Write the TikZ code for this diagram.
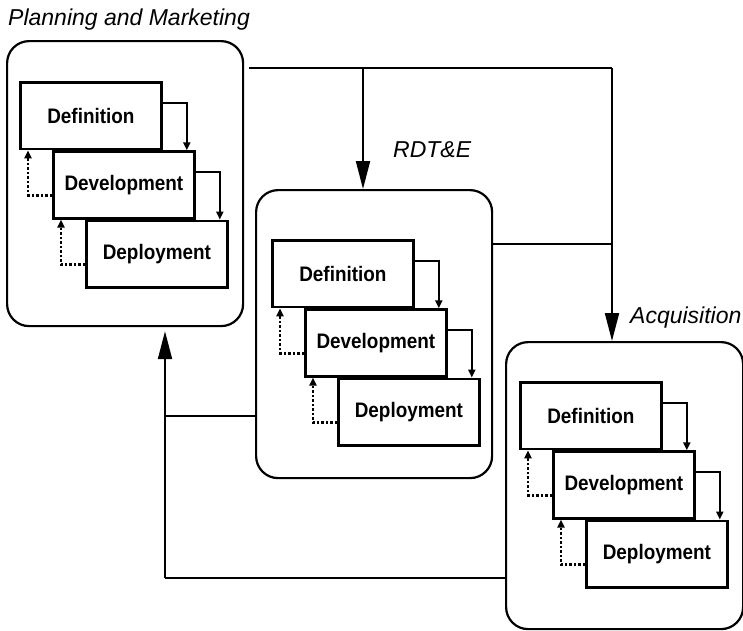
\documentclass[tikz,border=0pt]{standalone}
\usepackage{fontspec}
\setmainfont{Liberation Sans}
\newfontfamily\stagefont[FakeStretch=0.9]{Liberation Sans}
\usetikzlibrary{arrows.meta}

% Three cascading stage boxes with their forward and feedback arrows
\newcommand\stagegroup[3]{%
  \node[inbox, anchor=north west] (#1def) at (#2,#3) {Definition};
  \node[inbox, anchor=north west, xshift=33pt] (#1dev) at (#1def.south west) {Development};
  \node[inbox, anchor=north west, xshift=33pt] (#1dep) at (#1dev.south west) {Deployment};
  \draw[smallarr] ([yshift=-22pt]#1def.north east) -| ([xshift=-9pt]#1dev.north east);
  \draw[smallarr] ([yshift=-22pt]#1dev.north east) -| ([xshift=-9pt]#1dep.north east);
  \draw[dotarr] ([yshift=-45pt]#1dev.north west) -| ([xshift=9pt]#1def.south west);
  \draw[dotarr] ([yshift=-45pt]#1dep.north west) -| ([xshift=9pt]#1dev.south west);
}

\begin{document}
\begin{tikzpicture}[x=1pt, y=-1pt,
  inbox/.style={draw, line width=2.8pt, fill=white, minimum width=141pt,
    minimum height=66.5pt, inner sep=0pt,
    font=\stagefont\bfseries\fontsize{21}{24}\selectfont},
  outbox/.style={draw, line width=2.2pt, rounded corners=22pt, inner sep=0pt},
  conn/.style={line width=2pt},
  bigarr/.style={conn, -{Triangle[length=28pt,width=14pt]}},
  smallarr/.style={line width=2pt, -{Triangle[length=8pt,width=7pt]}},
  dotarr/.style={line width=2.6pt, dash pattern=on 2.5pt off 2pt,
    -{Triangle[length=8pt,width=7pt]}},
  ttl/.style={anchor=base west, inner sep=0pt,
    font=\itshape\fontsize{23}{27}\selectfont}]

\useasboundingbox (0,0) rectangle (743,630);

% Organisation frames
\node[outbox, minimum width=236pt, minimum height=285pt, anchor=north west] (pm) at (6,40) {};
\node[outbox, minimum width=236pt, minimum height=288pt, anchor=north west] (rdte) at (255,189) {};
\node[outbox, minimum width=237pt, minimum height=287pt, anchor=north west] (acq) at (505,341) {};

% Frame titles
\node[ttl] (tpm) at (8,25) {Planning and Marketing};
\node[ttl] (trdte) at (393,157) {RDT\&E};
\node[ttl] (tacq) at (630,323) {Acquisition};

% Stage cascades
\stagegroup{a}{19}{81}
\stagegroup{b}{271}{239}
\stagegroup{c}{519}{381}

% Flow between organisations
\coordinate (tr) at (612,68);
\coordinate (tj) at (363,68);
\coordinate (pmout) at ([yshift=-28pt]pm.north east);
\draw[conn, shorten <=5pt] (pmout) -- (tr);
\draw[bigarr] (tj) -- (tj |- rdte.north);
\draw[bigarr] (tr) -- (tr |- acq.north);
\coordinate (rdout) at ([yshift=-55pt]rdte.north east);
\draw[conn] (rdout) -- (rdout -| tr);

\coordinate (bl) at (165,578);
\coordinate (acqback) at ([yshift=-237pt]acq.north west);
\coordinate (rdback) at ([yshift=-227pt]rdte.north west);
\draw[conn] (acqback) -- (bl);
\draw[conn] (rdback) -- (rdback -| bl);
\draw[bigarr, shorten >=4pt] (bl) -- (bl |- pm.south);

\end{tikzpicture}
\end{document}
